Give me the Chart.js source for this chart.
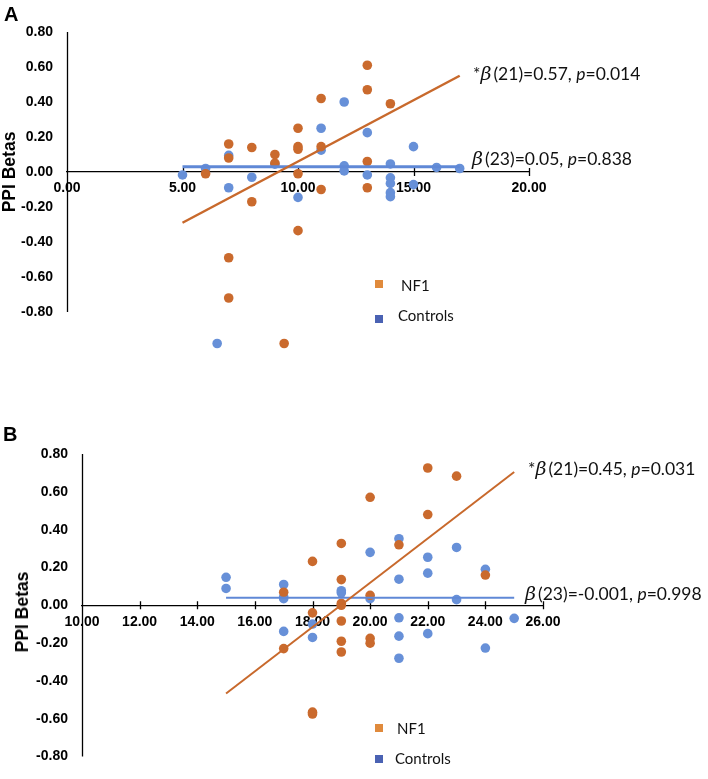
<!DOCTYPE html>
<html><head><meta charset="utf-8">
<script src="https://cdn.jsdelivr.net/npm/chart.js@4"></script>
<style>
html,body{margin:0;padding:0;background:#fff;}
body{width:708px;height:779px;position:relative;overflow:hidden;font-family:"Liberation Sans",Arial,sans-serif;}
canvas{position:absolute;left:0;top:0;}
.panel{position:absolute;font:bold 20px/20px "Liberation Sans",Arial,sans-serif;color:#000;}
.ytitle{position:absolute;font:bold 17.5px/18px "Liberation Sans",Arial,sans-serif;transform:translate(-50%,-50%) rotate(-90deg);white-space:nowrap;color:#000;}
.ann{position:absolute;font:17.5px/1.2 Lato,"Noto Sans",sans-serif;white-space:nowrap;transform:translateY(-50%);color:#111;}
.ann .b{font-family:"DejaVu Serif",serif;font-style:italic;font-size:19px;margin-right:2px;}
.leg{position:absolute;font:15px/1.2 Lato,"Noto Sans",sans-serif;white-space:nowrap;transform:translateY(-50%);color:#111;}
.sq{position:absolute;width:8px;height:8px;transform:translate(-50%,-50%);}
</style></head><body>
<canvas id="cA" width="708" height="779"></canvas>
<canvas id="cB" width="708" height="779"></canvas>

<div class="panel" style="left:4px;top:4px;">A</div>
<div class="panel" style="left:3px;top:424px;">B</div>
<div class="ytitle" style="left:9px;top:172px;">PPI Betas</div>
<div class="ytitle" style="left:22px;top:612px;">PPI Betas</div>

<div class="ann" style="left:473px;top:73px;">*<span class="b">β</span>(21)=0.57, <i>p</i>=0.014</div>
<div class="ann" style="left:472px;top:158px;"><span class="b">β</span>(23)=0.05, <i>p</i>=0.838</div>
<div class="ann" style="left:528px;top:468px;">*<span class="b">β</span>(21)=0.45, <i>p</i>=0.031</div>
<div class="ann" style="left:525px;top:593px;"><span class="b">β</span>(23)=-0.001, <i>p</i>=0.998</div>

<div class="sq" style="left:379px;top:284px;background:#E08A3C;"></div>
<div class="leg" style="left:401px;top:285px;">NF1</div>
<div class="sq" style="left:379px;top:319px;background:#4A62B3;"></div>
<div class="leg" style="left:398px;top:315px;">Controls</div>

<div class="sq" style="left:379px;top:728px;background:#E08A3C;"></div>
<div class="leg" style="left:397px;top:728px;">NF1</div>
<div class="sq" style="left:379px;top:759px;background:#4A62B3;"></div>
<div class="leg" style="left:395px;top:758px;">Controls</div>

<script>
// ---- Tick labels ----
const aXTicks = [0, 5, 10, 15, 20];
const bXTicks = [10, 12, 14, 16, 18, 20, 22, 24, 26];
const yTicks = [-0.8, -0.6, -0.4, -0.2, 0, 0.2, 0.4, 0.6, 0.8];

// ---- Panel A data ----
const aNf1X = [6, 7, 7, 7, 7, 8, 8, 9, 9, 9.4, 10, 10, 10, 10, 10, 11, 11, 11, 13, 13, 13, 13, 14];
const aNf1Y = [-0.01, 0.16, 0.08, -0.49, -0.72, 0.14, -0.17, 0.10, 0.05, -0.98, 0.25, 0.145, 0.13, -0.01, -0.335, 0.42, 0.145, -0.10, 0.61, 0.47, 0.06, -0.09, 0.39];
const aCtrlX = [5, 6, 6.5, 7, 7, 8, 9, 10, 11, 11, 12, 12, 12, 13, 13, 14, 14, 14, 14, 14, 15, 15, 16, 17];
const aCtrlY = [-0.017, 0.02, -0.98, 0.095, -0.09, -0.03, 0.045, -0.145, 0.25, 0.125, 0.40, 0.035, 0.006, 0.225, -0.017, 0.046, -0.033, -0.065, -0.118, -0.141, 0.145, -0.072, 0.026, 0.02];
const aNf1TrendX = [5, 17];
const aNf1TrendY = [-0.29, 0.55];
const aCtrlTrendX = [5, 17];
const aCtrlTrendY = [0.03, 0.03];

// ---- Panel B data ----
const bNf1X = [17, 17, 18, 18, 18, 18, 19, 19, 19, 19, 19, 19, 19, 20, 20, 20, 20, 21, 22, 22, 23, 24];
const bNf1Y = [0.069, -0.229, 0.232, -0.04, -0.565, -0.575, 0.327, 0.136, 0.01, 0.0, -0.083, -0.19, -0.247, 0.571, 0.053, -0.175, -0.2, 0.32, 0.726, 0.48, 0.683, 0.16];
const bCtrlX = [15, 15, 17, 17, 17, 17, 18, 18, 19, 19, 20, 20, 21, 21, 21, 21, 21, 22, 22, 22, 23, 23, 24, 24, 25];
const bCtrlY = [0.148, 0.089, 0.11, 0.045, 0.035, -0.138, -0.099, -0.17, 0.077, 0.066, 0.28, 0.035, 0.352, 0.138, -0.066, -0.163, -0.28, 0.254, 0.17, -0.15, 0.306, 0.03, 0.19, -0.226, -0.069];
const bNf1TrendX = [15, 25];
const bNf1TrendY = [-0.466, 0.705];
const bCtrlTrendX = [15, 25];
const bCtrlTrendY = [0.04, 0.04];

// ---- Styles ----
const ORANGE = '#CA6A2D';
const BLUE = '#6790D8';
const ORANGE_LINE = '#C8692C';
const BLUE_LINE = '#5F88D6';

function pts(xs, ys) { return xs.map((x, i) => ({ x: x, y: ys[i] })); }
function fmt(v) { return (Math.abs(v) < 1e-9 ? 0 : v).toFixed(2); }

const axisPlugin = {
  id: 'axisLines',
  beforeDatasetsDraw(chart) {
    const ctx = chart.ctx, xs = chart.scales.x, ys = chart.scales.y;
    const tv = ys.ticks.map(t => t.value);
    const top = ys.getPixelForValue(Math.max.apply(null, tv));
    const bot = ys.getPixelForValue(Math.min.apply(null, tv));
    const x0 = Math.round(chart.chartArea.left) + 0.5;
    const y0 = ys.getPixelForValue(0);
    ctx.save();
    ctx.strokeStyle = '#000';
    ctx.lineWidth = 1.3;
    ctx.beginPath();
    ctx.moveTo(x0, top); ctx.lineTo(x0, bot);
    xs.ticks.forEach(t => {
      const px = Math.round(xs.getPixelForValue(t.value)) + 0.5;
      ctx.moveTo(px, y0 - 4); ctx.lineTo(px, y0 + 4);
    });
    ctx.stroke();
    ctx.restore();
  }
};

const tickFont = { family: 'Liberation Sans', size: 14, weight: 'bold' };

function build(canvasId, o) {
  return new Chart(document.getElementById(canvasId), {
    type: 'scatter',
    data: {
      datasets: [
        { label: 'NF1 trend', data: pts(o.nt[0], o.nt[1]), showLine: true, borderColor: ORANGE_LINE, borderWidth: o.lw[0], pointRadius: 0, order: 0, clip: false },
        { label: 'Controls trend', data: pts(o.ct[0], o.ct[1]), showLine: true, borderColor: BLUE_LINE, borderWidth: o.lw[1], pointRadius: 0, order: 1, clip: false },
        { label: 'NF1', data: pts(o.n[0], o.n[1]), backgroundColor: ORANGE, borderColor: ORANGE, borderWidth: 0, pointRadius: 4.8, order: 2, clip: false },
        { label: 'Controls', data: pts(o.c[0], o.c[1]), backgroundColor: BLUE, borderColor: BLUE, borderWidth: 0, pointRadius: 4.8, order: 3, clip: false }
      ]
    },
    options: {
      responsive: false,
      animation: false,
      events: [],
      layout: { padding: o.pad },
      plugins: { legend: { display: false }, tooltip: { enabled: false } },
      scales: {
        x: {
          type: 'linear', position: { y: 0 }, min: o.xr[0], max: o.xr[1],
          afterBuildTicks: s => { s.ticks = o.xt.map(v => ({ value: v })); },
          afterFit: s => { s.height = 0; },
          grid: { display: false, drawTicks: false },
          border: { display: true, color: '#000', width: 1.3 },
          ticks: { padding: 8, color: '#000', font: tickFont, callback: v => fmt(v), autoSkip: false, maxRotation: 0 }
        },
        y: {
          type: 'linear', position: 'left', min: o.yr[0], max: o.yr[1],
          afterBuildTicks: s => { s.ticks = yTicks.map(v => ({ value: v })); },
          afterFit: s => { s.width = o.yw; },
          grid: { display: false, drawTicks: false },
          border: { display: false },
          ticks: { padding: 14, color: '#000', font: tickFont, callback: v => fmt(v) }
        }
      }
    },
    plugins: [axisPlugin]
  });
}

build('cA', {
  n: [aNf1X, aNf1Y], c: [aCtrlX, aCtrlY], nt: [aNf1TrendX, aNf1TrendY], ct: [aCtrlTrendX, aCtrlTrendY],
  lw: [2.5, 3], xr: [0, 20], yr: [-1.05, 0.8], xt: aXTicks, yw: 67,
  pad: { left: 0, top: 32, right: 179, bottom: 423.25 }
});
build('cB', {
  n: [bNf1X, bNf1Y], c: [bCtrlX, bCtrlY], nt: [bNf1TrendX, bNf1TrendY], ct: [bCtrlTrendX, bCtrlTrendY],
  lw: [2, 2], xr: [10, 26], yr: [-0.8, 0.8], xt: bXTicks, yw: 82,
  pad: { left: 0, top: 454, right: 165, bottom: 9 }
});
</script>
</body></html>
